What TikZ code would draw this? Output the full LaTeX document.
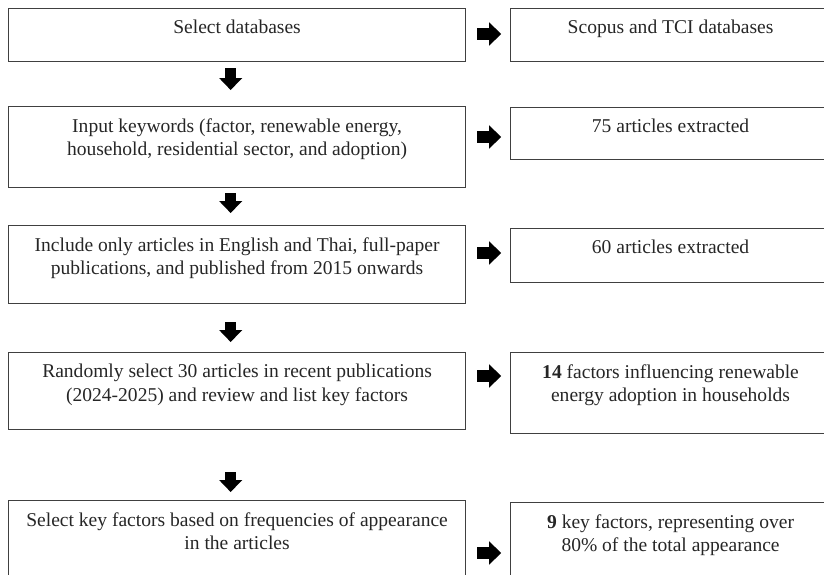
\documentclass[tikz,border=0pt]{standalone}
\usepackage{fontspec}
\setmainfont{Liberation Serif}
\usepackage{tikz}
\usetikzlibrary{positioning,arrows.meta}

\tikzset{
  box/.style={draw=black!75, line width=0.8pt, anchor=north west, inner sep=0pt},
  lbox/.style={box, minimum width=11.425cm},
  rbox/.style={box, minimum width=8cm},
  txt/.style={align=center, inner sep=0pt, text=black!85, font=\fontsize{13.9}{17}\selectfont},
  blk/.style={line width=0.28cm, -{Triangle[width=0.58cm,length=0.3cm,line width=0pt]}}
}

\begin{document}
\begin{tikzpicture}
\clip (0,0) rectangle (20.6,-14.375);

% left column
\node[lbox, minimum height=1.325cm] (sel) at (0.2,-0.2) {};
\node[lbox, minimum height=2.025cm] (inp) at (0.2,-2.65) {};
\node[lbox, minimum height=1.95cm] (inc) at (0.2,-5.625) {};
\node[lbox, minimum height=1.925cm] (rnd) at (0.2,-8.8) {};
\node[lbox, minimum height=2.5cm] (key) at (0.2,-12.5) {};

% right column
\node[rbox, minimum height=1.325cm] (scp) at (12.75,-0.2) {};
\node[rbox, minimum height=1.3cm] (ext75) at (12.75,-2.675) {};
\node[rbox, minimum height=1.35cm] (ext60) at (12.75,-5.7) {};
\node[rbox, minimum height=2.025cm] (fac14) at (12.75,-8.8) {};
\node[rbox, minimum height=2.5cm] (fac9) at (12.75,-12.55) {};

% texts
\node[txt, below=0.3cm of sel.north] (tsel) {Select databases};
\node[txt, below=0.3cm of inp.north] (tinp) {Input keywords (factor, renewable energy,\\ household, residential sector, and adoption)};
\node[txt, below=0.3cm of inc.north] (tinc) {Include only articles in English and Thai, full-paper\\ publications, and published from 2015 onwards};
\node[txt, below=0.3cm of rnd.north] (trnd) {Randomly select 30 articles in recent publications\\ (2024-2025) and review and list key factors};
\node[txt, below=0.3cm of key.north] (tkey) {Select key factors based on frequencies of appearance\\ in the articles};
\node[txt, below=0.3cm of scp.north] (tscp) {Scopus and TCI databases};
\node[txt, below=0.3cm of ext75.north] (text75) {75 articles extracted};
\node[txt, below=0.3cm of ext60.north] (text60) {60 articles extracted};
\node[txt, below=0.3cm of fac14.north] (tfac14) {\textbf{14} factors influencing renewable\\ energy adoption in households};
\node[txt, below=0.3cm of fac9.north] (tfac9) {\textbf{9} key factors, representing over\\ 80\% of the total appearance};

% down arrows
\draw[blk, shorten <=0.15cm, shorten >=0.4cm] ([xshift=-0.16cm]sel.south) -- ([xshift=-0.16cm]inp.north);
\draw[blk, shorten <=0.125cm, shorten >=0.3cm] ([xshift=-0.16cm]inp.south) -- ([xshift=-0.16cm]inc.north);
\draw[blk, shorten <=0.45cm, shorten >=0.25cm] ([xshift=-0.16cm]inc.south) -- ([xshift=-0.16cm]rnd.north);
\draw[blk, shorten <=1.05cm, shorten >=0.2cm] ([xshift=-0.16cm]rnd.south) -- ([xshift=-0.16cm]key.north);

% right arrows
\draw[blk, shorten <=0.28cm, shorten >=0.22cm] (sel.east |- 0,-0.85) -- (scp.west |- 0,-0.85);
\draw[blk, shorten <=0.28cm, shorten >=0.22cm] (inp.east |- 0,-3.425) -- (ext75.west |- 0,-3.425);
\draw[blk, shorten <=0.28cm, shorten >=0.22cm] (inc.east |- 0,-6.325) -- (ext60.west |- 0,-6.325);
\draw[blk, shorten <=0.28cm, shorten >=0.22cm] (rnd.east |- 0,-9.4) -- (fac14.west |- 0,-9.4);
\draw[blk, shorten <=0.28cm, shorten >=0.22cm] (key.east |- 0,-13.825) -- (fac9.west |- 0,-13.825);
\end{tikzpicture}
\end{document}
